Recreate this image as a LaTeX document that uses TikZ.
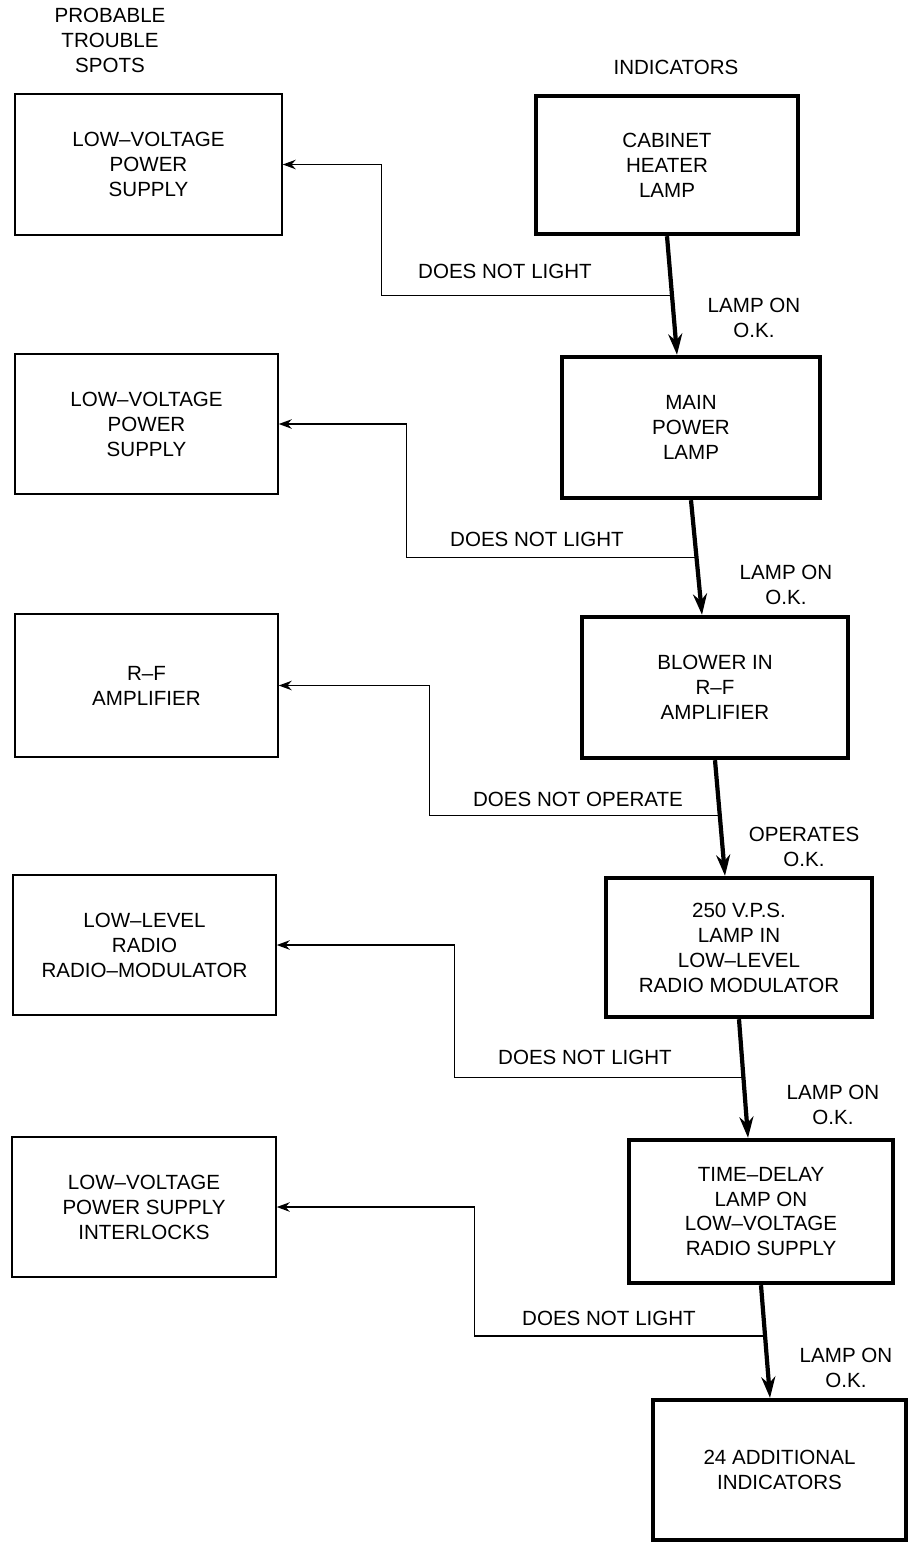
\documentclass[tikz,border=0pt]{standalone}
\usepackage{fontspec}
\setmainfont{Liberation Sans}
\usepackage{tikz}
\usetikzlibrary{positioning,calc,arrows.meta}

\begin{document}
\begin{tikzpicture}[x=0.02cm,y=-0.02cm,
		font=\fontsize{11.7}{14.2}\selectfont,
		trouble/.style={draw, line width=0.9pt, align=center, inner sep=0pt},
		indicator/.style={draw, line width=2.5pt, align=center, inner sep=0pt},
		okarrow/.style={-{Stealth[length=0.42cm,width=0.28cm]}, line width=2.4pt},
		failarrow/.style={-{Stealth[length=0.26cm,width=0.19cm]}, line width=0.75pt},
		lbl/.style={align=center, inner sep=0pt}]
		\useasboundingbox (0,0) rectangle (909,1543);
		
		\node[lbl] (spots) at (110,40) {PROBABLE\\TROUBLE\\SPOTS};
		\node[lbl] (indic) at (676,67) {INDICATORS};
		
		% indicators
		\node[indicator, minimum width=5.24cm, minimum height=2.76cm] (heater) at (667,165) {CABINET\\HEATER\\LAMP};
		\node[indicator, minimum width=5.16cm, minimum height=2.82cm] (mainp) at (691,427.5) {MAIN\\POWER\\LAMP};
		\node[indicator, minimum width=5.32cm, minimum height=2.82cm] (blower) at (715,687.5) {BLOWER IN\\R--F\\AMPLIFIER};
		\node[indicator, minimum width=5.32cm, minimum height=2.78cm] (vps) at (739,947.5) {250 V.P.S.\\LAMP IN\\LOW--LEVEL\\RADIO MODULATOR};
		\node[indicator, minimum width=5.28cm, minimum height=2.86cm] (delay) at (761,1211.5) {TIME--DELAY\\LAMP ON\\LOW--VOLTAGE\\RADIO SUPPLY};
		\node[indicator, minimum width=5.06cm, minimum height=2.80cm] (extra) at (779.5,1470) {24 ADDITIONAL\\INDICATORS};
		
		% trouble spots
		\node[trouble, minimum width=5.34cm, minimum height=2.82cm] (lvps1) at (148.5,164.5) {LOW--VOLTAGE\\POWER\\SUPPLY};
		\node[trouble, minimum width=5.26cm, minimum height=2.80cm] (lvps2) at (146.5,424) {LOW--VOLTAGE\\POWER\\SUPPLY};
		\node[trouble, minimum width=5.26cm, minimum height=2.86cm] (rfamp) at (146.5,685.5) {R--F\\AMPLIFIER};
		\node[trouble, minimum width=5.26cm, minimum height=2.80cm] (llmod) at (144.5,945) {LOW--LEVEL\\RADIO\\RADIO--MODULATOR};
		\node[trouble, minimum width=5.28cm, minimum height=2.80cm] (lvint) at (144,1207) {LOW--VOLTAGE\\POWER SUPPLY\\INTERLOCKS};
		
		\draw[okarrow] (heater.south) -- coordinate[pos=.5] (j1) ([xshift=-0.28cm]mainp.north);
		\draw[okarrow] (mainp.south) -- coordinate[pos=.5] (j2) ([xshift=-0.26cm]blower.north);
		\draw[okarrow] (blower.south) -- coordinate[pos=.48] (j3) ([xshift=-0.28cm]vps.north);
		\draw[okarrow] (vps.south) -- coordinate[pos=.49] (j4) ([xshift=-0.26cm]delay.north);
		\draw[okarrow] (delay.south) -- coordinate[pos=.45] (j5) ([xshift=-0.19cm]extra.north);
		
		\draw[failarrow] (j1) -| ([xshift=1.98cm]lvps1.east) -- (lvps1.east);
		\draw[failarrow] (j2) -| ([xshift=2.56cm]lvps2.east) -- (lvps2.east);
		\draw[failarrow] (j3) -| ([xshift=3.02cm]rfamp.east) -- (rfamp.east);
		\draw[failarrow] (j4) -| ([xshift=3.56cm]llmod.east) -- (llmod.east);
		\draw[failarrow] (j5) -| ([xshift=3.96cm]lvint.east) -- (lvint.east);
		
		\node[lbl] (dnl1) at (505,271) {DOES NOT LIGHT};
		\node[lbl] (ok1) at (754,318) {LAMP ON\\O.K.};
		\node[lbl] (dnl2) at (537,539) {DOES NOT LIGHT};
		\node[lbl] (ok2) at (786,585) {LAMP ON\\O.K.};
		\node[lbl] (dno3) at (578,799) {DOES NOT OPERATE};
		\node[lbl] (ok3) at (804,847) {OPERATES\\O.K.};
		\node[lbl] (dnl4) at (585,1057) {DOES NOT LIGHT};
		\node[lbl] (ok4) at (833,1105) {LAMP ON\\O.K.};
		\node[lbl] (dnl5) at (609,1318) {DOES NOT LIGHT};
		\node[lbl] (ok5) at (846,1368) {LAMP ON\\O.K.};
	\end{tikzpicture}
\end{document}
